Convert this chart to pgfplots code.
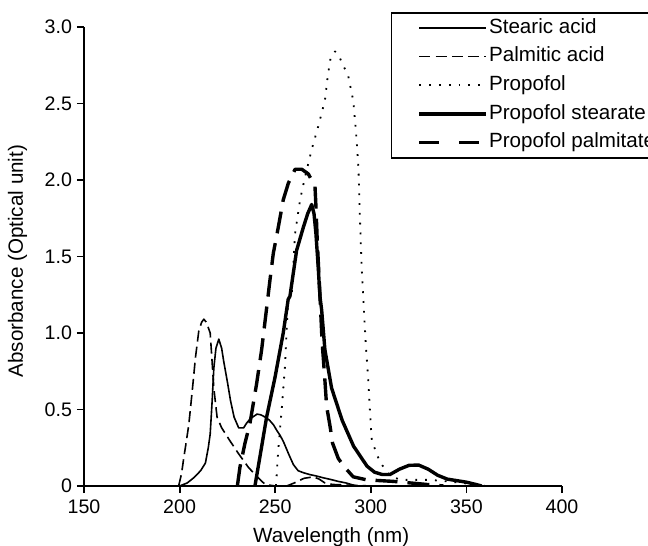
\documentclass[border=0pt]{standalone}
\usepackage{fontspec}
\setmainfont{Liberation Sans}
\usepackage{pgfplots}
\pgfplotsset{compat=1.18}
\usetikzlibrary{calc}

\begin{document}
\begin{tikzpicture}
\begin{axis}[
    name=ax,
    scale only axis,
    width=239pt, height=229.5pt,
    xmin=150, xmax=400, ymin=0, ymax=3,
    axis lines*=left,
    axis line style={-, line width=0.9pt},
    xtick={150,200,250,300,350,400},
    xticklabels={150,200,250,300,350,400},
    ytick={0,0.5,1,1.5,2,2.5,3},
    yticklabels={0,0.5,1.0,1.5,2.0,2.5,3.0},
    tick align=outside,
    major tick length=3.5pt,
    tick style={line width=0.9pt, black},
    tick label style={font=\fontsize{9.8}{11}\selectfont},
    yticklabel style={xshift=1pt},
    xlabel={Wavelength (nm)},
    ylabel={Absorbance (Optical unit)},
    label style={font=\fontsize{10.3}{12}\selectfont},
    xlabel style={at={(axis description cs:0.517,0)}, anchor=north, yshift=-17.4pt},
    ylabel style={at={(axis description cs:-0.139,0.49)}, anchor=center},
    legend cell align=left,
    legend style={
        at={(axis description cs:0.642,1.0327)}, anchor=north west,
        draw=black, line width=0.8pt,
        font=\fontsize{10.3}{12}\selectfont,
        inner xsep=13pt, inner ysep=2.3pt,
        row sep=3.6pt, column sep=0pt,
        nodes={inner sep=0.5pt, text height=7.5pt, text depth=2.2pt},
    },
    legend image code/.code={\draw[#1] (0pt,0pt) -- (33.5pt,0pt);},
    every axis plot/.append style={line join=round, black},
]
% Stearic acid
\addplot[line width=0.8pt] coordinates {
(200,0) (204,0.02) (207.5,0.055) (211,0.1) (213.5,0.15) (215,0.25) (216,0.34)
(217,0.55) (217.9,0.77) (219,0.9) (220.5,0.96) (222,0.9) (223,0.82) (225,0.68)
(226.6,0.56) (228.5,0.45) (230.9,0.38) (233.5,0.38) (235,0.41) (237,0.44)
(240.5,0.47) (242.5,0.465) (244.8,0.45) (247,0.43) (249.1,0.40) (251,0.36)
(252.6,0.33) (254.3,0.29) (257,0.21) (259.5,0.14) (262,0.1) (264.7,0.087)
(268,0.075) (271.7,0.065) (275,0.054) (278.6,0.044) (283,0.03) (287,0.02) (292.5,0)
};
\addlegendentry{Stearic acid}
% Palmitic acid
\addplot[line width=0.8pt, dash pattern=on 5.5pt off 2.6pt] coordinates {
(199.5,0) (201,0.08) (202.2,0.185) (203.5,0.29) (204.8,0.40) (206.6,0.62)
(208.3,0.84) (210,1.01) (211.5,1.07) (212.7,1.09) (214,1.07) (216,1.0)
(216.8,0.85) (217.9,0.64) (219.6,0.45) (222,0.38) (226.6,0.29) (230.9,0.21)
(236.1,0.12) (242.2,0.04) (244.8,0.01) (250,0) (256,0) (260,0.02) (265,0.05)
(270,0.06) (273,0.045) (276,0.02) (280,0.01) (300,0)
};
\addlegendentry{Palmitic acid}
% Propofol
\addplot[line width=0.9pt, dash pattern=on 0.9pt off 4pt] coordinates {
(250.4,0) (251.6,0.235) (253.4,0.50) (255.1,0.78) (256.8,1.22) (258.6,1.24)
(260.4,1.65) (263,1.87) (265.6,2.02) (269.1,2.20) (272.5,2.35) (276,2.52)
(277.5,2.68) (279,2.80) (281.3,2.84) (283,2.82) (284.8,2.77) (288.2,2.68)
(290.8,2.52) (292.3,2.31) (293.5,2.09) (294.3,1.76) (295.2,1.43) (296.1,1.22)
(297.5,0.9) (298.7,0.69) (299.6,0.48) (300.5,0.30) (302.2,0.24) (304.8,0.155)
(310,0.07) (315.3,0.04) (324,0.04) (331,0.04) (340,0.03) (355,0.01) (360,0)
};
\addlegendentry{Propofol}
% Propofol stearate
\addplot[line width=1.7pt] coordinates {
(239.4,0) (242,0.19) (245.5,0.45) (249.9,0.71) (254.2,1.0) (256.8,1.22)
(257.7,1.24) (261.2,1.54) (264.7,1.69) (267,1.78) (269.1,1.84) (270.3,1.78)
(271.3,1.65) (272.5,1.43) (273.4,1.24) (274.3,1.15) (276,0.89) (279.5,0.64)
(285,0.43) (291,0.26) (298,0.13) (302,0.09) (306,0.075) (310,0.075) (315,0.11)
(320,0.135) (325,0.137) (330,0.11) (335,0.07) (340,0.045) (345,0.035)
(350,0.025) (355,0.01) (358,0)
};
\addlegendentry{Propofol stearate}
% Propofol palmitate
\addplot[line width=1.7pt, dash pattern=on 11pt off 5pt,
    legend image post style={dash pattern=on 10pt off 10pt}] coordinates {
(230.2,0) (231.6,0.126) (234.2,0.28) (236.8,0.41) (240.3,0.67) (242.9,0.89)
(245.2,1.13) (247.3,1.35) (249,1.52) (251.6,1.69) (254.2,1.87) (256.9,1.98)
(260.4,2.07) (263.9,2.07) (267.3,2.04) (270.8,1.96) (271.3,1.83) (272,1.6)
(273.2,1.3) (274.5,0.95) (276,0.69) (276.9,0.52) (278.7,0.39) (280,0.28)
(283,0.18) (286.5,0.12) (290.8,0.06) (297.9,0.04) (305,0.035) (312,0.03)
(325,0.015) (338,0)
};
\addlegendentry{Propofol palmitate}
\end{axis}
\pgfresetboundingbox
\path[use as bounding box] ($(ax.south west)+(-42pt,-30pt)$) rectangle ($(ax.north east)+(43pt,13.5pt)$);
\end{tikzpicture}
\end{document}
